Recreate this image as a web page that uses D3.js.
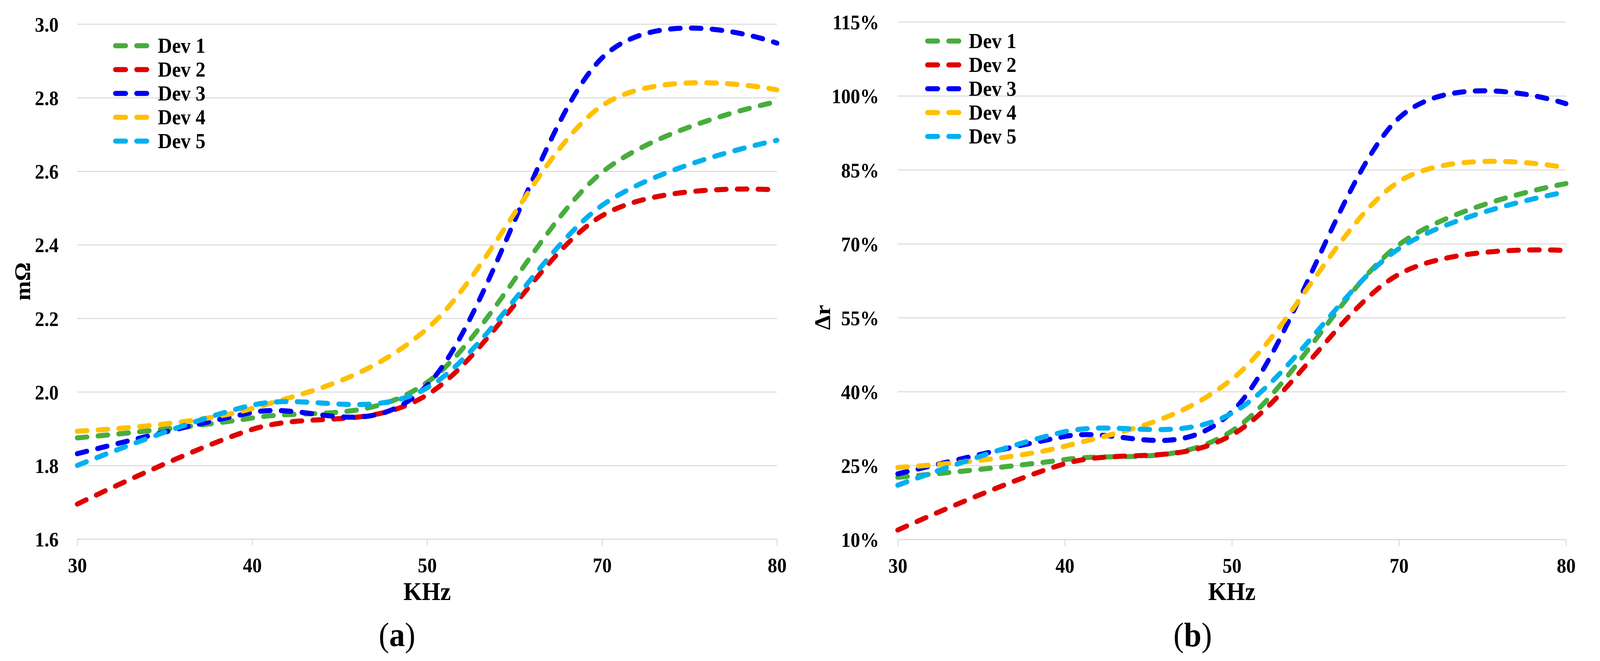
<!DOCTYPE html>
<html>
<head>
<meta charset="utf-8">
<script src="https://cdn.jsdelivr.net/npm/d3@7"></script>
<style>
  html, body { margin: 0; padding: 0; width: 100%; height: 100%; overflow: hidden; background: #fff; }
  svg { display: block; width: 100vw; height: 100vh; }
</style>
</head>
<body>
<script>
  const width = 4380;
  const height = 1691;
  const font = "Liberation Serif";

  // x categories (KHz) and series
  const categories = ["30", "40", "50", "70", "80"];
  const seriesNames = ["Dev 1", "Dev 2", "Dev 3", "Dev 4", "Dev 5"];
  const seriesColors = ["#47ad3d", "#e00000", "#0000f5", "#ffc000", "#00b0f0"];

  // panel (a): resistance, mΩ
  const dev1Resistance = [1.875, 1.929, 2.026, 2.597, 2.789];
  const dev2Resistance = [1.695, 1.898, 1.992, 2.479, 2.549];
  const dev3Resistance = [1.832, 1.944, 2.018, 2.908, 2.948];
  const dev4Resistance = [1.893, 1.955, 2.172, 2.778, 2.821];
  const dev5Resistance = [1.800, 1.964, 2.011, 2.507, 2.684];
  const resistanceTicks = [1.6, 1.8, 2.0, 2.2, 2.4, 2.6, 2.8, 3.0];

  // panel (b): relative change, %
  const dev1Delta = [22.6, 26.2, 32.0, 69.8, 82.2];
  const dev2Delta = [11.9, 25.35, 31.2, 63.8, 68.6];
  const dev3Delta = [23.3, 30.9, 35.9, 95.5, 98.4];
  const dev4Delta = [24.6, 28.9, 42.5, 82.6, 85.4];
  const dev5Delta = [21.0, 31.85, 35.6, 69.0, 80.5];
  const deltaTicks = [10, 25, 40, 55, 70, 85, 100, 115];

  // the drawing is laid out on a 4380x1691 board and stretched to the window
  const svg = d3.select("body")
    .append("svg")
    .attr("viewBox", `0 0 ${width} ${height}`)
    .attr("preserveAspectRatio", "none")
    .attr("font-family", font);

  svg.append("rect")
    .attr("width", width)
    .attr("height", height)
    .attr("fill", "#fff");

  const panels = [
    {
      left: 211.5, right: 2127, top: 61.5, bottom: 1379,
      domain: [1.6, 3.0],
      ticks: resistanceTicks,
      format: d3.format(".1f"),
      series: [dev1Resistance, dev2Resistance, dev3Resistance, dev4Resistance, dev5Resistance],
      yTitle: "mΩ", yTitleX: 82, yTitleY: 720,
      legendX: 316, legendTextX: 432, legendY: 117,
      label: "a", labelX: 1087
    },
    {
      left: 2457.5, right: 4287, top: 56, bottom: 1380,
      domain: [10, 115],
      ticks: deltaTicks,
      format: (d) => `${d}%`,
      series: [dev1Delta, dev2Delta, dev3Delta, dev4Delta, dev5Delta],
      yTitle: "Δr", yTitleX: 2272, yTitleY: 812,
      legendX: 2539, legendTextX: 2652, legendY: 105,
      label: "b", labelX: 3265
    }
  ];

  function drawPanel(p) {
    const x = d3.scalePoint().domain(categories).range([p.left, p.right]);
    const y = d3.scaleLinear().domain(p.domain).range([p.bottom, p.top]);
    const g = svg.append("g");

    // gridlines and value labels
    const yAxis = g.append("g")
      .attr("transform", `translate(${p.left},0)`)
      .call(d3.axisLeft(y)
        .tickValues(p.ticks)
        .tickSize(-(p.right - p.left))
        .tickPadding(51)
        .tickFormat(p.format))
      .attr("font-family", font)
      .attr("font-size", 52)
      .attr("font-weight", "bold");
    yAxis.select(".domain").remove();
    yAxis.selectAll(".tick line")
      .attr("stroke", "#d9d9d9")
      .attr("stroke-width", 2.5);
    yAxis.selectAll(".tick text")
      .attr("fill", "#000")
      .attr("dy", "0.36em");

    // category axis
    const xAxis = g.append("g")
      .attr("transform", `translate(0,${p.bottom})`)
      .call(d3.axisBottom(x)
        .tickSize(17)
        .tickSizeOuter(0)
        .tickPadding(31))
      .attr("font-family", font)
      .attr("font-size", 52)
      .attr("font-weight", "bold");
    xAxis.select(".domain")
      .attr("stroke", "#d9d9d9")
      .attr("stroke-width", 2.5);
    xAxis.selectAll(".tick line")
      .attr("stroke", "#d9d9d9")
      .attr("stroke-width", 2.5);
    xAxis.selectAll(".tick text").attr("fill", "#000");

    // smoothed dashed series
    const line = d3.line()
      .x((d, i) => x(categories[i]))
      .y((d) => y(d))
      .curve(d3.curveCardinal.tension(0));

    g.append("g")
      .selectAll("path")
      .data(p.series)
      .join("path")
      .attr("d", line)
      .attr("fill", "none")
      .attr("stroke", (d, i) => seriesColors[i])
      .attr("stroke-width", 13)
      .attr("stroke-linecap", "round")
      .attr("stroke-dasharray", "27,30");

    // legend
    const legend = g.append("g")
      .selectAll("g")
      .data(seriesNames)
      .join("g")
      .attr("transform", (d, i) => `translate(0,${p.legendY + i * 61})`);

    legend.append("line")
      .attr("x1", p.legendX)
      .attr("x2", p.legendX + 86)
      .attr("stroke", (d, i) => seriesColors[i])
      .attr("stroke-width", 13)
      .attr("stroke-linecap", "round")
      .attr("stroke-dasharray", "28,30");

    legend.append("text")
      .attr("x", p.legendTextX)
      .attr("dy", "0.33em")
      .attr("font-size", 54)
      .attr("font-weight", "bold")
      .text((d) => d);

    // axis titles
    g.append("text")
      .attr("transform", `translate(${p.yTitleX},${p.yTitleY}) rotate(-90)`)
      .attr("text-anchor", "middle")
      .attr("font-size", 60)
      .attr("font-weight", "bold")
      .text(p.yTitle);

    g.append("text")
      .attr("x", (p.left + p.right) / 2)
      .attr("y", 1535)
      .attr("text-anchor", "middle")
      .attr("font-size", 65)
      .attr("font-weight", "bold")
      .text("KHz");

    // panel label
    const label = g.append("text")
      .attr("x", p.labelX)
      .attr("y", 1653)
      .attr("text-anchor", "middle")
      .attr("font-size", 86);
    label.append("tspan").text("(");
    label.append("tspan").attr("font-weight", "bold").text(p.label);
    label.append("tspan").text(")");
  }

  panels.forEach(drawPanel);
</script>
</body>
</html>
